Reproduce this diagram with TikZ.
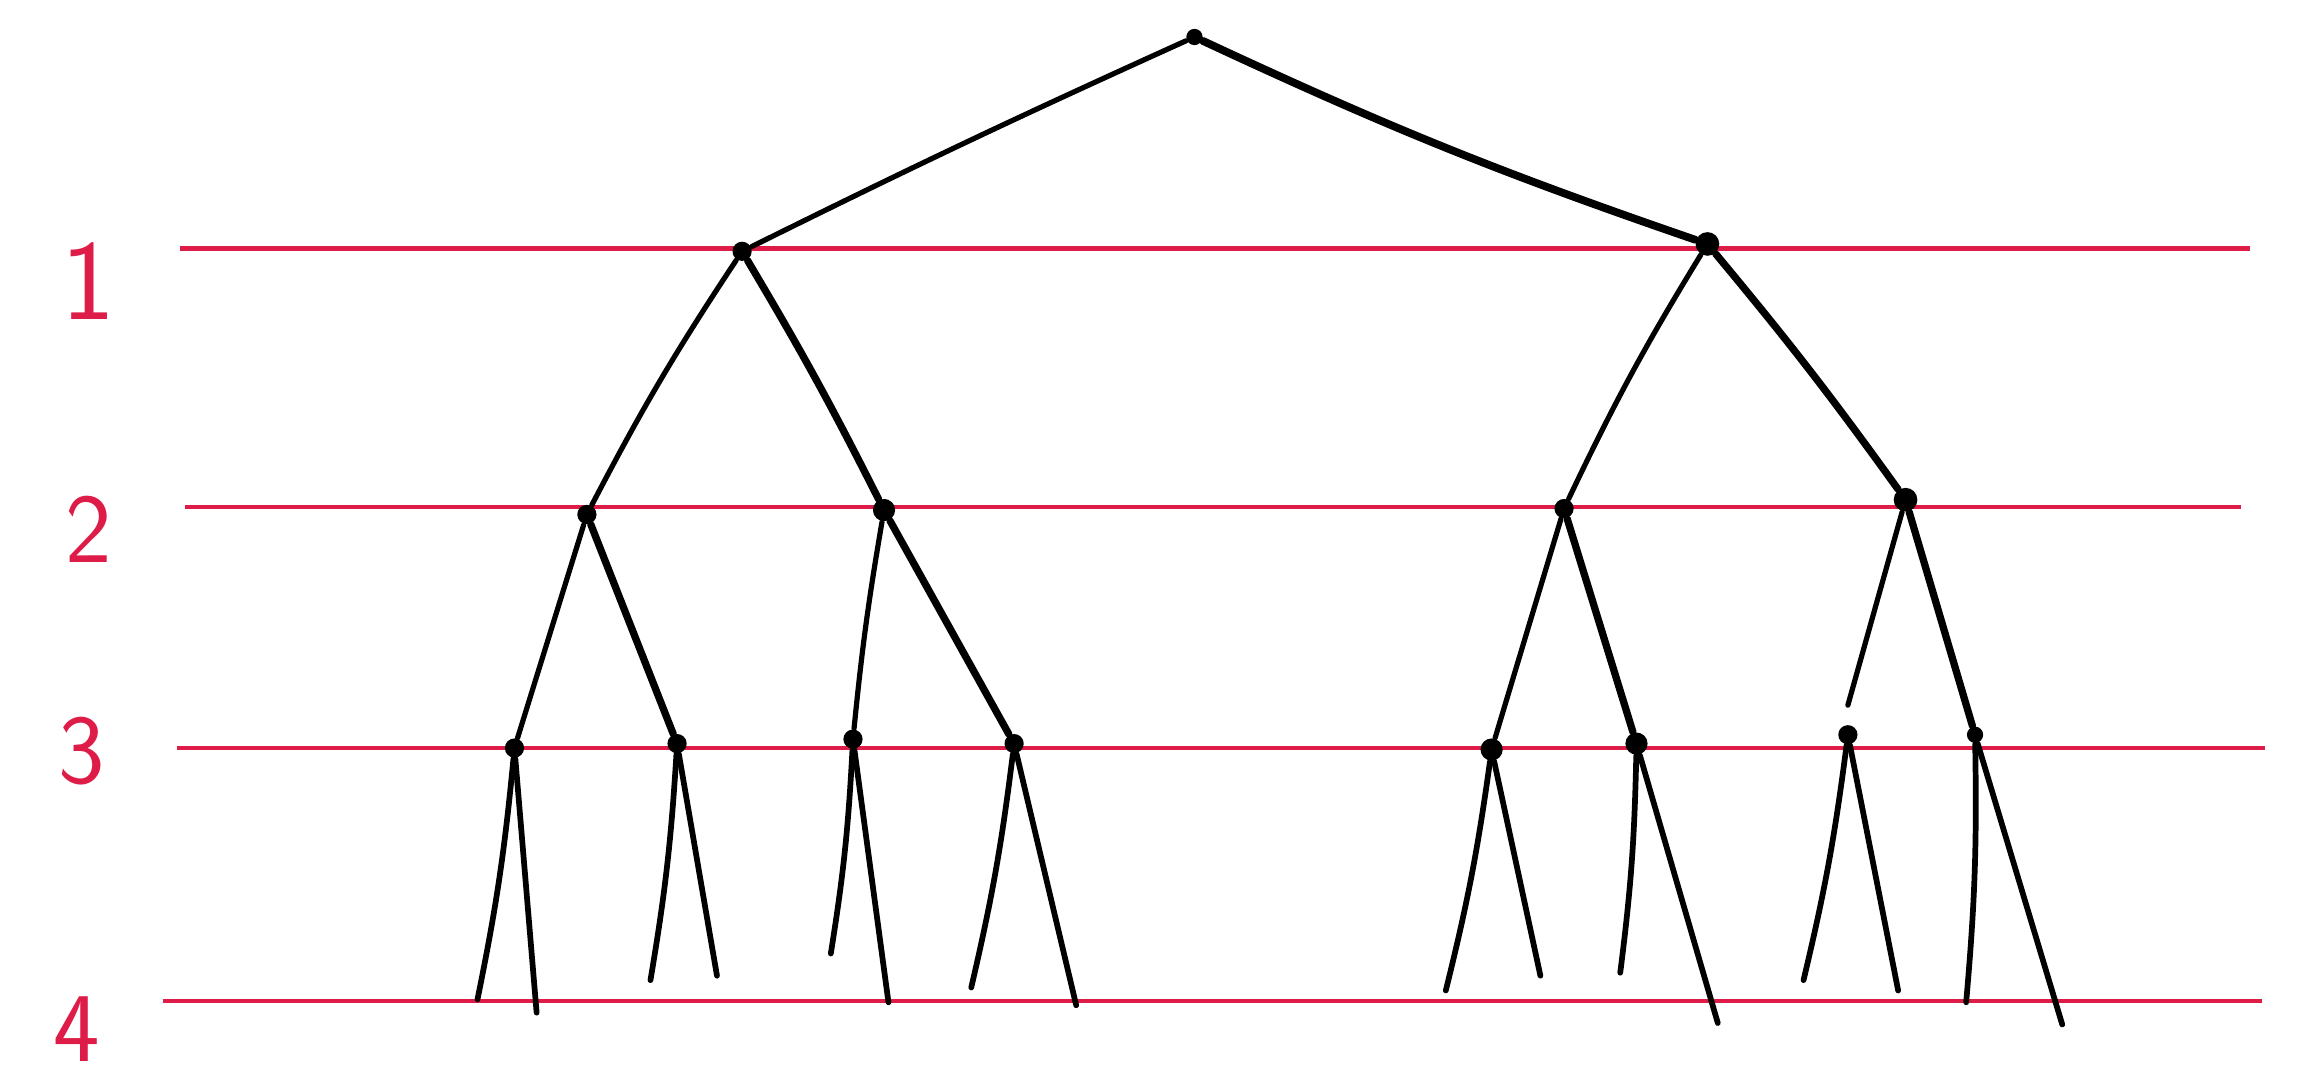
\documentclass[tikz,border=0pt]{standalone}
\usepackage{tikz}
\definecolor{penred}{RGB}{222,28,72}
\tikzset{
  redline/.style={penred,line width=0.9pt},
  lvllabel/.style={text=penred,inner sep=0pt,font=\sffamily\fontsize{19}{21}\selectfont},
  knot/.style={circle,fill=black,inner sep=0pt,minimum size=0.13cm},
  branch/.style={black,line width=1pt,line cap=round},
  leaf/.style={black,line width=1.1pt,line cap=round}
}
\begin{document}
\begin{tikzpicture}[x=0.01cm,y=-0.01cm]
    \useasboundingbox (0,0) rectangle (1568,729);
    % level lines
    \draw[redline] (122,168) -- (1522,168);
    \draw[redline] (125,343) -- (1516,343);
    \draw[redline] (120,506) -- (1532,506);
    \draw[redline] (110,677) -- (1530,677);
    \node[lvllabel,font=\sffamily\fontsize{22}{24}\selectfont] (l1) at (60,190) {1};
    \node[lvllabel] (l2) at (60,358) {2};
    \node[lvllabel] (l3) at (55,508) {3};
    \node[lvllabel] (l4) at (52,696) {4};

    % nodes
    \node[knot,minimum size=0.11cm] (r) at (808,25) {};
    \node[knot] (a) at (502,170) {};
    \node[knot,minimum size=0.16cm] (b) at (1155,165) {};
    \node[knot] (aa) at (397,348) {};
    \node[knot,minimum size=0.15cm] (ab) at (598,345) {};
    \node[knot] (ba) at (1058,344) {};
    \node[knot,minimum size=0.16cm] (bb) at (1289,338) {};
    \node[knot] (aaa) at (348,506) {};
    \node[knot] (aab) at (458,503) {};
    \node[knot] (aba) at (577,500) {};
    \node[knot] (abb) at (686,503) {};
    \node[knot,minimum size=0.15cm] (baa) at (1009,507) {};
    \node[knot,minimum size=0.15cm] (bab) at (1107,503) {};
    \node[knot] (bba) at (1250,497) {};
    \node[knot,minimum size=0.11cm] (bbb) at (1336,497) {};

    % loose ends on level 4
    \coordinate (e1) at (323,676);
    \coordinate (e2) at (363,685);
    \coordinate (e3) at (440,663);
    \coordinate (e4) at (485,660);
    \coordinate (e5) at (562,645);
    \coordinate (e6) at (601,678);
    \coordinate (e7) at (657,668);
    \coordinate (e8) at (728,680);
    \coordinate (e9) at (978,670);
    \coordinate (e10) at (1042,660);
    \coordinate (e11) at (1096,658);
    \coordinate (e12) at (1162,692);
    \coordinate (e13) at (1220,663);
    \coordinate (e14) at (1284,670);
    \coordinate (e15) at (1330,678);
    \coordinate (e16) at (1395,693);
    \coordinate (gap) at (1250,477);

    % branches
    \draw[branch] (r) to[bend right=1] (a);
    \draw[branch,line width=1.5pt] (r) to[bend right=3] (b);
    \draw[branch] (a) to[bend right=3] (aa);
    \draw[branch,line width=1.4pt] (a) to[bend left=2] (ab);
    \draw[branch] (b) to[bend right=3] (ba);
    \draw[branch,line width=1.4pt] (b) to[bend left=2] (bb);
    \draw[branch] (aa) -- (aaa);
    \draw[branch,line width=1.4pt] (aa) -- (aab);
    \draw[branch] (ab) to[bend right=2] (aba);
    \draw[branch,line width=1.4pt] (ab) -- (abb);
    \draw[branch] (ba) -- (baa);
    \draw[branch,line width=1.4pt] (ba) -- (bab);
    \draw[branch] (bb) -- (gap);
    \draw[branch,line width=1.4pt] (bb) -- (bbb);

    \foreach \n/\l/\r in {aaa/e1/e2,aab/e3/e4,aba/e5/e6,abb/e7/e8,baa/e9/e10,bab/e11/e12,bba/e13/e14,bbb/e15/e16} {
        \draw[leaf] (\n) to[bend left=3] (\l);
        \draw[leaf] (\n) -- (\r);
    }
\end{tikzpicture}
\end{document}
